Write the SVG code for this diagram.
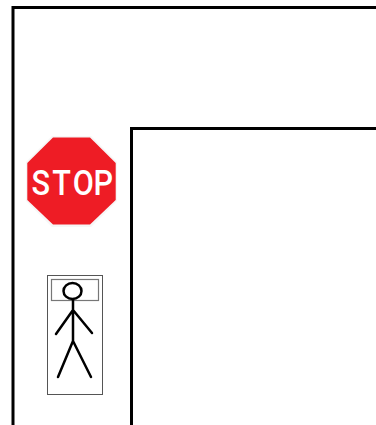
<svg xmlns="http://www.w3.org/2000/svg" width="376" height="425" viewBox="0 0 376 425">
<style>
.wall{fill:none;stroke:#000;stroke-width:3}
.fig{fill:none;stroke:#000;stroke-width:2.5;stroke-linecap:round}
.t{fill:#fff;font-family:"Roboto","Liberation Sans",sans-serif;font-size:36px;font-weight:500}
</style>
<rect width="376" height="425" fill="#fff"/>
<path class="wall" d="M13 425V7.500H376"/>
<path class="wall" d="M131.500 425V128.500H376"/>
<g id="stop">
<polygon points="52,136 91,136 117,162 117,201 91,227 52,227 26,201 26,162" fill="#f6f6f6"/>
<polygon points="53,137.500 90,137.500 115.700,163 115.700,200 90,224.500 53,224.500 27.300,200 27.300,163" fill="#ee1c25"/>
<text class="t" transform="translate(0 195) scale(.85 1)" x="37 61.500 85.500 110" y="0">STOP</text>
</g>
<g id="person">
<rect x="47.500" y="275.500" width="55" height="119" fill="#fff" stroke="#555" stroke-width="1"/>
<rect x="51.500" y="279.500" width="47" height="21" fill="#fff" stroke="#777" stroke-width="1.200"/>
<ellipse class="fig" cx="72.500" cy="291" rx="9" ry="8"/>
<path class="fig" d="M73 299.500V341M73 310L56 334M73 310L92 333M73 341L58 377M73 341L91 377"/>
</g>
</svg>
